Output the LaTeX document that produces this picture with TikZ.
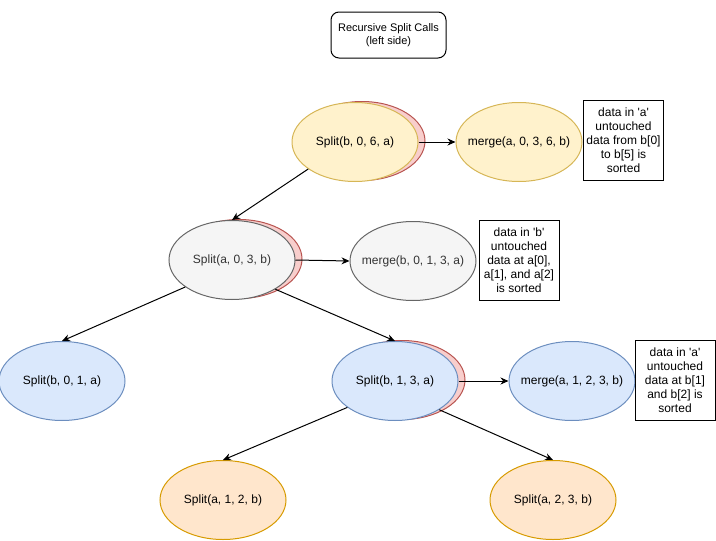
\documentclass[tikz,border=0pt]{standalone}
\usepackage{fontspec}
\setmainfont{Liberation Sans}
\usetikzlibrary{arrows.meta,shapes.geometric}
\definecolor{yelfill}{HTML}{FFF2CC}
\definecolor{yeldraw}{HTML}{D6B656}
\definecolor{grayfill}{HTML}{F5F5F5}
\definecolor{graydraw}{HTML}{666666}
\definecolor{grytext}{HTML}{333333}
\definecolor{bluefill}{HTML}{DAE8FC}
\definecolor{bluedraw}{HTML}{6C8EBF}
\definecolor{orgfill}{HTML}{FFE6CC}
\definecolor{orgdraw}{HTML}{D79B00}
\definecolor{redfill}{HTML}{F8CECC}
\definecolor{reddraw}{HTML}{B85450}
\newcommand{\q}{\textquotesingle}
\tikzset{
  call/.style={ellipse,draw,line width=1pt,minimum width=126pt,minimum height=79pt,inner sep=-10pt,font=\fontsize{12}{14}\selectfont},
  yelcall/.style={call,fill=yelfill,draw=yeldraw},
  graycall/.style={call,fill=grayfill,draw=graydraw,text=grytext},
  bluecall/.style={call,fill=bluefill,draw=bluedraw},
  orgcall/.style={call,fill=orgfill,draw=orgdraw},
  redcall/.style={call,fill=redfill,draw=reddraw},
  note/.style={draw,line width=1pt,minimum width=80pt,minimum height=80pt,inner sep=1pt,align=center,font=\fontsize{12}{14}\selectfont},
  arr/.style={-{Stealth[length=8pt,width=7pt]},line width=1pt}
}
\begin{document}
\begin{tikzpicture}[x=1pt,y=-1pt]
      \useasboundingbox (0,0) rectangle (716,541);
      \node[draw,rounded corners=8pt,line width=1pt,minimum width=115pt,minimum height=46pt,align=center,font=\fontsize{11}{13}\selectfont] (title) at (388.5,35) {Recursive Split Calls\\(left side)};
      \node[redcall] (s1r) at (362,141) {};
      \node[yelcall] (s1) at (355,142) {Split(b, 0, 6, a)};
      \node[yelcall] (m1) at (519,142) {merge(a, 0, 3, 6, b)};
      \node[note] (n1) at (623.5,140) {data in \q a\q\\untouched\\data from b[0]\\to b[5] is\\sorted};
      \node[redcall] (s2r) at (239,259) {};
      \node[graycall] (s2) at (232,260) {Split(a, 0, 3, b)};
      \node[graycall] (m2) at (413,261) {merge(b, 0, 1, 3, a)};
      \node[note] (n2) at (519,260) {data in \q b\q\\untouched\\data at a[0],\\a[1], and a[2]\\is sorted};
      \node[bluecall] (s3) at (62,381) {Split(b, 0, 1, a)};
      \node[redcall] (s4r) at (402,380) {};
      \node[bluecall] (s4) at (395,381) {Split(b, 1, 3, a)};
      \node[bluecall] (m3) at (572,381) {merge(a, 1, 2, 3, b)};
      \node[note] (n3) at (675,380) {data in \q a\q\\untouched\\data at b[1]\\and b[2] is\\sorted};
      \node[orgcall] (s5) at (223,500) {Split(a, 1, 2, b)};
      \node[orgcall] (s6) at (553,500) {Split(a, 2, 3, b)};
      \draw[arr] (s1.east) -- (m1.west);
      \draw[arr] (s2.east) -- (m2.west);
      \draw[arr] (s4.east) -- (m3.west);
      \draw[arr] (s1.210) -- (s2.north);
      \draw[arr] (s2.210) -- (s3.north);
      \draw[arr] (s2.326) -- (s4.north);
      \draw[arr] (s4.209) -- (s5.north);
      \draw[arr] (s4.327) -- (s6.north);
    \end{tikzpicture}
\end{document}
